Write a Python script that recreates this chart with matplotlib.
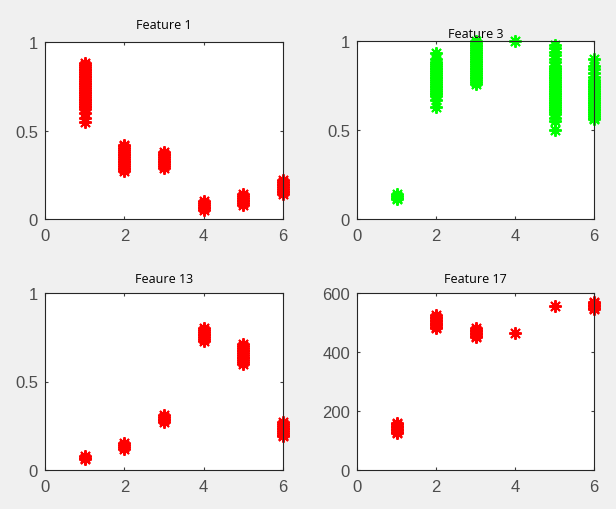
import matplotlib.pyplot as plt

# valores: clase (x) -> lista de valores (y)
clases = [1, 2, 3, 4, 5, 6]

feature1 = {
    1: [0.55, 0.57, 0.60, 0.62, 0.63, 0.64, 0.65, 0.66, 0.67, 0.68, 0.69, 0.70, 0.71,
        0.72, 0.73, 0.74, 0.75, 0.76, 0.77, 0.78, 0.79, 0.80, 0.81, 0.82, 0.83, 0.84,
        0.85, 0.86, 0.87, 0.88],
    2: [0.27, 0.28, 0.29, 0.30, 0.31, 0.32, 0.33, 0.34, 0.35, 0.36, 0.37, 0.38, 0.39,
        0.40, 0.41, 0.42],
    3: [0.29, 0.30, 0.31, 0.32, 0.33, 0.34, 0.35, 0.36, 0.37, 0.38],
    4: [0.05, 0.06, 0.07, 0.08, 0.09, 0.10],
    5: [0.08, 0.09, 0.10, 0.11, 0.12, 0.13, 0.14],
    6: [0.14, 0.15, 0.16, 0.17, 0.18, 0.19, 0.20, 0.21, 0.22],
}

feature3 = {
    1: [0.11, 0.12, 0.13, 0.14],
    2: [0.63, 0.67, 0.69, 0.70, 0.71, 0.72, 0.73, 0.74, 0.75, 0.76, 0.77, 0.78, 0.79,
        0.80, 0.81, 0.82, 0.83, 0.84, 0.85, 0.86, 0.87, 0.88, 0.90, 0.93],
    3: [0.76, 0.77, 0.78, 0.79, 0.80, 0.81, 0.82, 0.83, 0.84, 0.85, 0.86, 0.87, 0.88,
        0.89, 0.90, 0.91, 0.92, 0.93, 0.94, 0.95, 0.96, 0.97, 0.98, 0.99, 1.00],
    4: [1.00],
    5: [0.50, 0.55, 0.57, 0.59, 0.60, 0.61, 0.62, 0.63, 0.64, 0.65, 0.66, 0.67, 0.68,
        0.69, 0.70, 0.71, 0.72, 0.73, 0.74, 0.75, 0.76, 0.77, 0.78, 0.79, 0.80, 0.81,
        0.82, 0.83, 0.84, 0.85, 0.86, 0.88, 0.90, 0.92, 0.94, 0.96, 0.98],
    6: [0.56, 0.57, 0.58, 0.59, 0.60, 0.61, 0.62, 0.63, 0.64, 0.65, 0.66, 0.67, 0.68,
        0.69, 0.70, 0.71, 0.72, 0.73, 0.74, 0.75, 0.76, 0.77, 0.78, 0.80, 0.82, 0.84,
        0.86, 0.90],
}

feature13 = {
    1: [0.06, 0.07, 0.08],
    2: [0.12, 0.13, 0.14, 0.15],
    3: [0.27, 0.28, 0.29, 0.30, 0.31],
    4: [0.73, 0.74, 0.75, 0.76, 0.77, 0.78, 0.79, 0.80],
    5: [0.60, 0.61, 0.62, 0.63, 0.64, 0.65, 0.66, 0.67, 0.68, 0.69, 0.70, 0.71],
    6: [0.19, 0.20, 0.21, 0.22, 0.23, 0.24, 0.25, 0.26, 0.27],
}

feature17 = {
    1: [125, 130, 135, 140, 145, 150, 155, 160],
    2: [480, 485, 490, 495, 500, 505, 510, 515, 520, 525],
    3: [450, 455, 460, 465, 470, 475, 480],
    4: [465],
    5: [555],
    6: [545, 550, 555, 560, 565, 570],
}

paneles = [
    ("Feature 1", feature1, "#ff0000", [0, 0.5, 1], ["0", "0.5", "1"], 1),
    ("Feature 3", feature3, "#00ff00", [0, 0.5, 1], ["0", "0.5", "1"], 1),
    ("Feaure 13", feature13, "#ff0000", [0, 0.5, 1], ["0", "0.5", "1"], 1),
    ("Feature 17", feature17, "#ff0000", [0, 200, 400, 600], ["0", "200", "400", "600"], 600),
]

# posiciones en pixeles (izq, arriba, der, abajo)
cajas = [(45, 43, 283, 220), (357, 42, 594, 220), (45, 294, 283, 471), (357, 294, 594, 471)]
pads = [10, 3, 8, 8]

W, H = 616, 510
fig = plt.figure(figsize=(W / 100, H / 100), dpi=100, facecolor="#f0f0f0")
plt.rcParams['font.family'] = ['Liberation Sans', 'DejaVu Sans']

for (titulo, datos, color, yt, ytl, ymax), (l, t, r, b), pad in zip(paneles, cajas, pads):
    ax = fig.add_axes([l / W, 1 - b / H, (r - l) / W, (b - t) / H])
    for x in clases:
        ys = datos[x]
        ax.plot([x] * len(ys), ys, linestyle='none', marker=(8, 2, 0), markersize=9,
                markeredgewidth=1.4, color=color, clip_on=False)
    ax.set_xlim(0, 6)
    ax.set_ylim(0, ymax)
    ax.set_xticks([0, 2, 4, 6])
    ax.set_yticks(yt)
    ax.set_yticklabels(ytl)
    ax.tick_params(direction='in', top=True, right=True, length=2.5, width=0.8,
                   labelsize=12, colors='#404040', labelcolor='#4d4d4d')
    ax.tick_params(axis='x', pad=6.5)
    ax.tick_params(axis='y', pad=5)
    for s in ax.spines.values():
        s.set_color('#262626')
        s.set_linewidth(0.8)
    ax.set_title(titulo, fontsize=9, color='black', pad=pad, family=['Open Sans', 'DejaVu Sans'])

fig.savefig("out.png", dpi=100, facecolor=fig.get_facecolor())
